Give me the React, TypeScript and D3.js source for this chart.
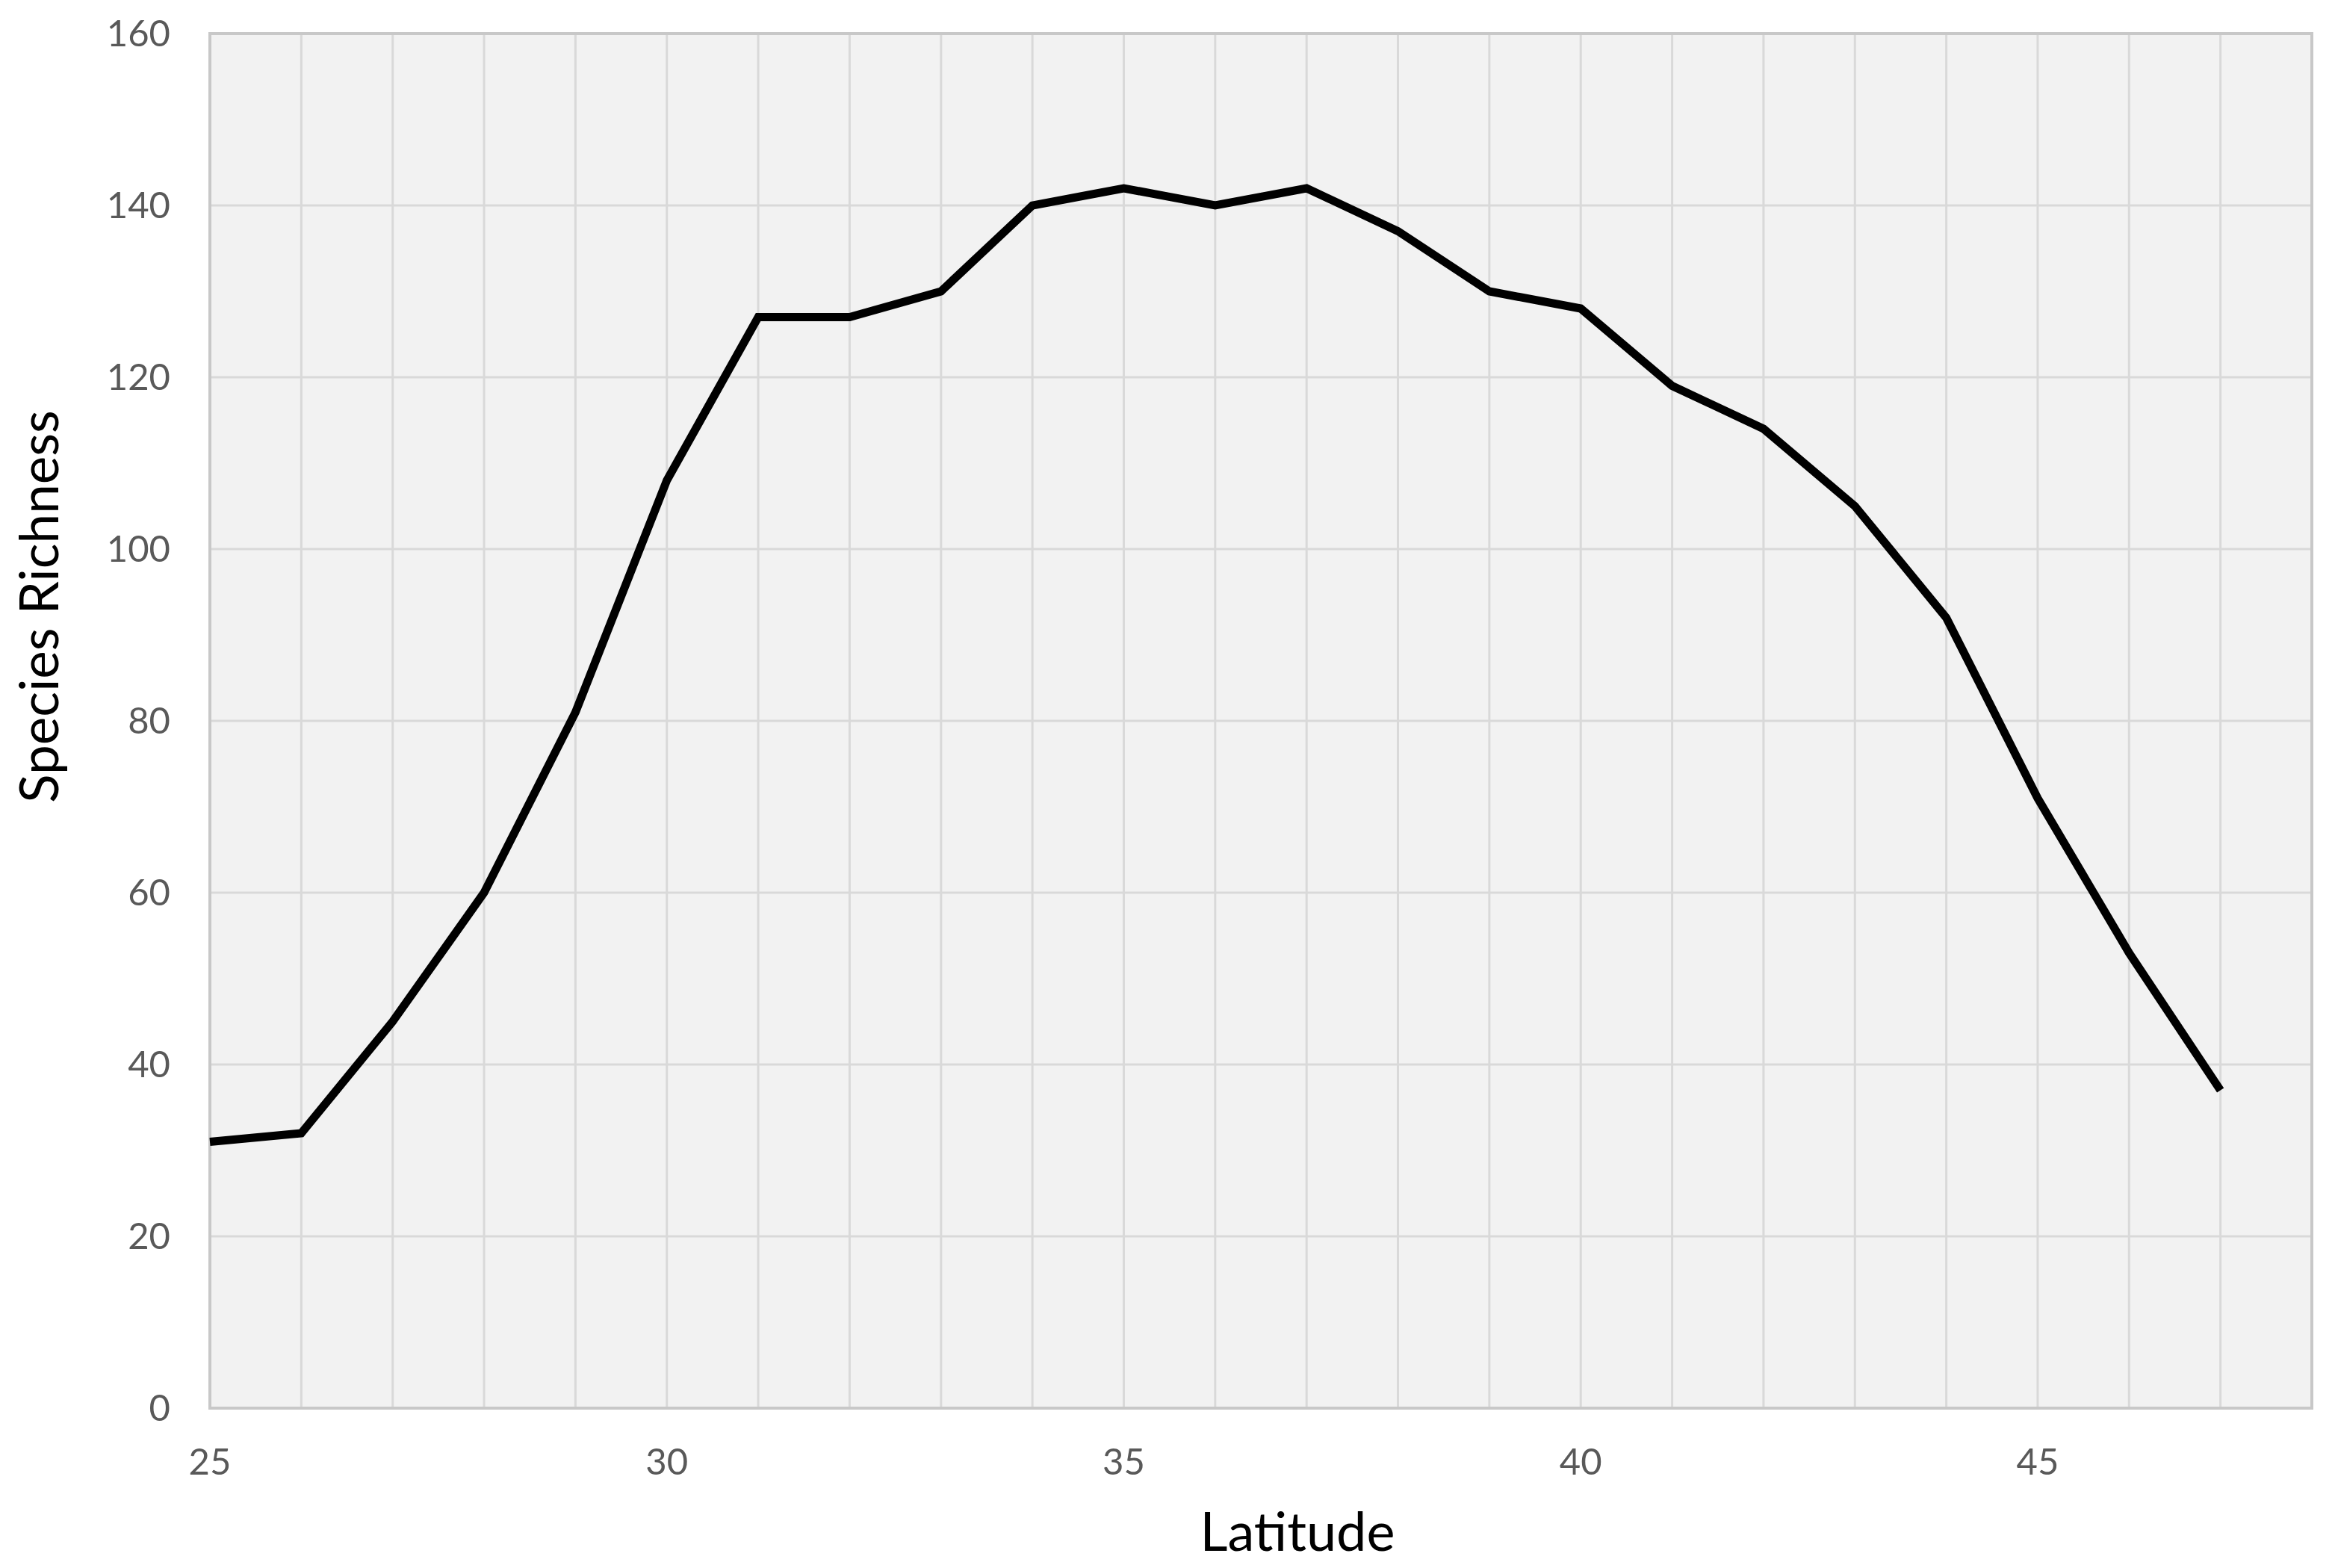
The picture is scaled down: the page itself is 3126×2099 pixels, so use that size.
import React from 'react';
import * as d3 from 'd3';

// latitude (degrees) vs species richness
const latitudes = [25, 26, 27, 28, 29, 30, 31, 32, 33, 34, 35, 36, 37, 38, 39, 40, 41, 42, 43, 44, 45, 46, 47];
const richness = [31, 32, 45, 60, 81, 108, 127, 127, 130, 140, 142, 140, 142, 137, 130, 128, 119, 114, 105, 92, 71, 53, 37];
const xTickLabels = [25, 30, 35, 40, 45];
const yTickLabels = [0, 20, 40, 60, 80, 100, 120, 140, 160];

const width = 3126;
const height = 2099;
const margin = { top: 45, right: 31, bottom: 214, left: 281 };
const font = 'Lato, "Open Sans", sans-serif';

const App = () => {
  const x = d3.scaleLinear().domain([25, 48]).range([margin.left, width - margin.right]);
  const y = d3.scaleLinear().domain([0, 160]).range([height - margin.bottom, margin.top]);

  const points = latitudes.map((lat, i) => [lat, richness[i]] as [number, number]);
  const line = d3.line<[number, number]>()
    .x(d => x(d[0]))
    .y(d => y(d[1]));

  const xGrid = d3.range(25, 49);
  const [x0, x1] = x.range();
  const [y0, y1] = y.range();

  return (
    <div style={{ position: 'absolute', left: 0, top: 0 }}>
      <svg width={width} height={height} style={{ display: 'block', background: '#fff' }}>
        <rect x={x0} y={y1} width={x1 - x0} height={y0 - y1} fill="#f2f2f2" />

        {xGrid.map(v => (
          <line key={'gx' + v} x1={x(v)} x2={x(v)} y1={y1} y2={y0} stroke="#d9d9d9" strokeWidth={3} />
        ))}
        {yTickLabels.map(v => (
          <line key={'gy' + v} x1={x0} x2={x1} y1={y(v)} y2={y(v)} stroke="#d9d9d9" strokeWidth={3} />
        ))}

        <rect x={x0} y={y1} width={x1 - x0} height={y0 - y1} fill="none" stroke="#c8c8c8" strokeWidth={4} />

        <path d={line(points) ?? ''} fill="none" stroke="#000" strokeWidth={11} strokeLinejoin="miter" />

        {yTickLabels.map(v => (
          <text key={'ty' + v} x={228} y={y(v)} dy="0.35em" textAnchor="end"
            fontFamily={font} fontSize={49} fill="#595959">{v}</text>
        ))}
        {xTickLabels.map(v => (
          <text key={'tx' + v} x={x(v)} y={1974} textAnchor="middle"
            fontFamily={font} fontSize={49} fill="#595959">{v}</text>
        ))}

        <text x={1737} y={2076} textAnchor="middle" fontFamily={font} fontSize={72} fill="#000">Latitude</text>
        <text transform={`translate(78, 812) rotate(-90)`} textAnchor="middle"
          fontFamily={font} fontSize={71} fill="#000">Species Richness</text>
      </svg>
    </div>
  );
};

export default App;
